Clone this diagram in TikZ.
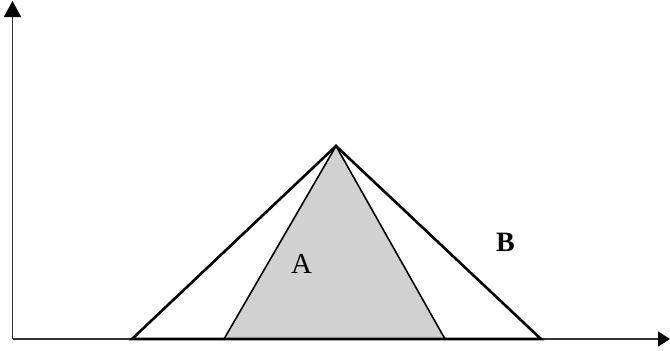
\documentclass[tikz,border=0pt]{standalone}
\usepackage{fontspec}
\setmainfont{Liberation Serif}
\usetikzlibrary{arrows.meta}

\begin{document}
\begin{tikzpicture}[x=1pt,y=-1pt,line join=miter]
  \useasboundingbox (0,0) rectangle (670,351);
  % axes
  \coordinate (O) at (12.5,339);
  \coordinate (Ytop) at (12.5,1);
  \coordinate (Xend) at (670,339);
  \draw[line width=1.6pt,black!80,-{Triangle[length=16pt,width=17pt,color=black]}] (O)--(Ytop);
  \draw[line width=1.6pt,black!80,-{Triangle[length=12pt,width=15pt,color=black]}] (O)--(Xend);
  % triangles
  \coordinate (T) at (336,146);
  \coordinate (BL) at (132,339);
  \coordinate (BR) at (541,339);
  \coordinate (AL) at (224,339);
  \coordinate (AR) at (445,339);
  \filldraw[fill=black!18,draw=black,line width=1.6pt] (AL)--(T)--(AR)--cycle;
  \draw[line width=2.6pt] (BL)--(T)--(BR)--cycle;
  \node[font=\fontsize{29}{32}\selectfont,anchor=base,inner sep=0pt] (la) at (301.5,273) {A};
  \node[font=\fontsize{28}{32}\selectfont\bfseries,anchor=base,inner sep=0pt] (lb) at (505.5,251) {B};
\end{tikzpicture}
\end{document}
